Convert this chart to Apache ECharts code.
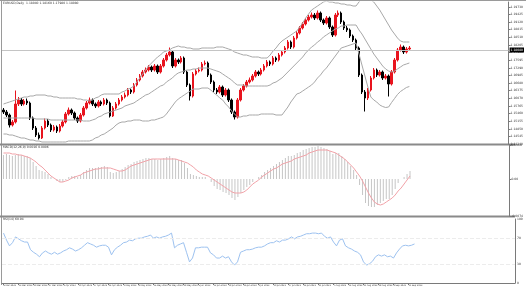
<!DOCTYPE html>
<html><head><meta charset="utf-8">
<script src="https://cdn.jsdelivr.net/npm/echarts/dist/echarts.min.js"></script>
<style>html,body{margin:0;padding:0;background:#fff}#c{width:526px;height:290px}</style>
</head><body><div id="c"></div>
<script>
const tickLabels = ['6 Mar 2023','13 Mar 2023','20 Mar 2023','27 Mar 2023','3 Apr 2023','10 Apr 2023','17 Apr 2023','24 Apr 2023','1 May 2023','8 May 2023','15 May 2023','22 May 2023','29 May 2023','5 Jun 2023','12 Jun 2023','19 Jun 2023','26 Jun 2023','3 Jul 2023','10 Jul 2023','17 Jul 2023','24 Jul 2023','31 Jul 2023','7 Aug 2023','14 Aug 2023','21 Aug 2023','28 Aug 2023','4 Sep 2023','11 Sep 2023'];

const opens = [1.1560,1.1552,1.1540,1.1500,1.1512,1.1584,1.1600,1.1584,1.1596,1.1588,
1.1528,1.1488,1.1460,1.1448,1.1488,1.1516,1.1500,1.1480,1.1492,1.1476,
1.1496,1.1512,1.1544,1.1560,1.1548,1.1528,1.1516,1.1540,1.1568,1.1588,
1.1600,1.1584,1.1576,1.1592,1.1584,1.1600,1.1588,1.1536,1.1568,1.1584,
1.1600,1.1612,1.1620,1.1640,1.1632,1.1660,1.1680,1.1696,1.1712,1.1720,
1.1732,1.1720,1.1736,1.1712,1.1736,1.1760,1.1780,1.1792,1.1736,1.1760,
1.1752,1.1768,1.1712,1.1660,1.1616,1.1704,1.1716,1.1720,1.1744,1.1748,
1.1700,1.1672,1.1640,1.1632,1.1652,1.1620,1.1640,1.1600,1.1552,1.1532,
1.1600,1.1640,1.1656,1.1672,1.1680,1.1696,1.1712,1.1704,1.1720,1.1736,
1.1752,1.1744,1.1768,1.1760,1.1780,1.1792,1.1808,1.1832,1.1812,1.1848,
1.1868,1.1888,1.1904,1.1920,1.1932,1.1940,1.1928,1.1948,1.1920,1.1908,
1.1928,1.1892,1.1860,1.1940,1.1948,1.1912,1.1888,1.1880,1.1856,1.1840,
1.1808,1.1700,1.1632,1.1608,1.1640,1.1688,1.1720,1.1700,1.1712,1.1688,
1.1696,1.1664,1.1712,1.1760,1.1800,1.1812,1.1792,1.1804];

const closes = [1.1552,1.1540,1.1500,1.1512,1.1584,1.1600,1.1584,1.1596,1.1588,1.1528,
1.1488,1.1460,1.1448,1.1488,1.1516,1.1500,1.1480,1.1492,1.1476,1.1496,
1.1512,1.1544,1.1560,1.1548,1.1528,1.1516,1.1540,1.1568,1.1588,1.1600,
1.1584,1.1576,1.1592,1.1584,1.1600,1.1588,1.1536,1.1568,1.1584,1.1600,
1.1612,1.1620,1.1640,1.1632,1.1660,1.1680,1.1696,1.1712,1.1720,1.1732,
1.1720,1.1736,1.1712,1.1736,1.1760,1.1780,1.1792,1.1736,1.1760,1.1752,
1.1768,1.1712,1.1660,1.1616,1.1704,1.1716,1.1720,1.1744,1.1748,1.1700,
1.1672,1.1640,1.1632,1.1652,1.1620,1.1640,1.1600,1.1552,1.1532,1.1600,
1.1640,1.1656,1.1672,1.1680,1.1696,1.1712,1.1704,1.1720,1.1736,1.1752,
1.1744,1.1768,1.1760,1.1780,1.1792,1.1808,1.1832,1.1812,1.1848,1.1868,
1.1888,1.1904,1.1920,1.1932,1.1940,1.1928,1.1948,1.1920,1.1908,1.1928,
1.1892,1.1860,1.1940,1.1948,1.1912,1.1888,1.1880,1.1856,1.1840,1.1808,
1.1700,1.1632,1.1608,1.1640,1.1688,1.1720,1.1700,1.1712,1.1688,1.1696,
1.1664,1.1712,1.1760,1.1800,1.1812,1.1792,1.1804,1.1808];

const highs = [1.1568,1.1560,1.1546,1.1520,1.1638,1.1612,1.1608,1.1604,1.1606,1.1594,
1.1534,1.1496,1.1470,1.1496,1.1526,1.1524,1.1506,1.1500,1.1498,1.1504,
1.1520,1.1552,1.1570,1.1566,1.1554,1.1534,1.1548,1.1576,1.1596,1.1610,
1.1606,1.1590,1.1600,1.1598,1.1608,1.1606,1.1594,1.1576,1.1592,1.1608,
1.1620,1.1630,1.1648,1.1646,1.1668,1.1688,1.1704,1.1720,1.1730,1.1740,
1.1738,1.1744,1.1742,1.1744,1.1768,1.1788,1.1810,1.1798,1.1768,1.1766,
1.1776,1.1774,1.1718,1.1666,1.1712,1.1724,1.1730,1.1752,1.1758,1.1754,
1.1706,1.1678,1.1648,1.1660,1.1658,1.1648,1.1646,1.1606,1.1558,1.1608,
1.1648,1.1664,1.1680,1.1690,1.1704,1.1720,1.1718,1.1728,1.1744,1.1760,
1.1758,1.1776,1.1774,1.1788,1.1800,1.1816,1.1840,1.1838,1.1856,1.1876,
1.1896,1.1912,1.1928,1.1940,1.1950,1.1948,1.1958,1.1954,1.1926,1.1936,
1.1934,1.1898,1.1948,1.1958,1.1954,1.1918,1.1896,1.1886,1.1862,1.1846,
1.1814,1.1706,1.1640,1.1648,1.1696,1.1728,1.1726,1.1720,1.1718,1.1704,
1.1702,1.1720,1.1768,1.1808,1.1822,1.1818,1.1812,1.1816];

const lows = [1.1544,1.1532,1.1490,1.1494,1.1506,1.1576,1.1576,1.1578,1.1580,1.1520,
1.1480,1.1452,1.1442,1.1444,1.1482,1.1492,1.1472,1.1474,1.1468,1.1470,
1.1490,1.1506,1.1538,1.1540,1.1520,1.1508,1.1510,1.1534,1.1562,1.1582,
1.1576,1.1568,1.1570,1.1576,1.1578,1.1580,1.1530,1.1532,1.1562,1.1578,
1.1594,1.1606,1.1614,1.1624,1.1626,1.1654,1.1674,1.1690,1.1706,1.1714,
1.1712,1.1714,1.1704,1.1706,1.1730,1.1754,1.1774,1.1728,1.1730,1.1744,
1.1746,1.1704,1.1652,1.1598,1.1610,1.1698,1.1710,1.1714,1.1738,1.1692,
1.1664,1.1632,1.1624,1.1626,1.1612,1.1614,1.1592,1.1544,1.1522,1.1526,
1.1594,1.1634,1.1650,1.1666,1.1674,1.1690,1.1696,1.1698,1.1714,1.1730,
1.1736,1.1738,1.1752,1.1754,1.1774,1.1786,1.1802,1.1804,1.1806,1.1842,
1.1862,1.1882,1.1898,1.1914,1.1926,1.1920,1.1922,1.1912,1.1900,1.1902,
1.1884,1.1852,1.1854,1.1932,1.1904,1.1880,1.1872,1.1848,1.1832,1.1800,
1.1692,1.1624,1.1554,1.1600,1.1634,1.1682,1.1692,1.1694,1.1680,1.1682,
1.1614,1.1658,1.1706,1.1754,1.1794,1.1784,1.1786,1.1798];

const bbUpper = [1.1584,1.1588,1.1592,1.1596,1.1600,1.1604,1.1608,1.1612,1.1612,1.1616,
1.1616,1.1620,1.1620,1.1620,1.1620,1.1616,1.1616,1.1612,1.1612,1.1608,
1.1608,1.1608,1.1608,1.1608,1.1608,1.1604,1.1604,1.1600,1.1600,1.1596,
1.1600,1.1608,1.1612,1.1620,1.1624,1.1624,1.1624,1.1624,1.1624,1.1624,
1.1632,1.1636,1.1644,1.1648,1.1656,1.1672,1.1688,1.1704,1.1720,1.1736,
1.1748,1.1760,1.1772,1.1780,1.1792,1.1796,1.1800,1.1808,1.1812,1.1816,
1.1812,1.1812,1.1808,1.1808,1.1804,1.1804,1.1804,1.1808,1.1808,1.1808,
1.1808,1.1808,1.1812,1.1812,1.1812,1.1808,1.1804,1.1800,1.1792,1.1788,
1.1784,1.1780,1.1780,1.1776,1.1772,1.1772,1.1772,1.1768,1.1768,1.1768,
1.1780,1.1796,1.1808,1.1824,1.1836,1.1844,1.1852,1.1860,1.1868,1.1876,
1.1892,1.1908,1.1928,1.1944,1.1960,1.1968,1.1976,1.1984,1.1992,1.1996,
1.1992,1.1992,1.1988,1.1988,1.1984,1.1984,1.1980,1.1980,1.1976,1.1976,
1.1992,1.2008,1.2020,1.2012,1.2000,1.1992,1.1976,1.1960,1.1940,1.1920,
1.1900,1.1880,1.1864,1.1848,1.1836,1.1832,1.1832,1.1832];

const bbMiddle = [1.1528,1.1528,1.1528,1.1528,1.1528,1.1528,1.1528,1.1528,1.1528,1.1528,
1.1528,1.1524,1.1524,1.1524,1.1524,1.1524,1.1520,1.1520,1.1520,1.1520,
1.1520,1.1520,1.1520,1.1520,1.1520,1.1520,1.1520,1.1516,1.1516,1.1516,
1.1520,1.1524,1.1532,1.1536,1.1544,1.1548,1.1552,1.1556,1.1560,1.1564,
1.1568,1.1576,1.1580,1.1584,1.1588,1.1596,1.1604,1.1612,1.1620,1.1624,
1.1632,1.1640,1.1648,1.1656,1.1660,1.1672,1.1680,1.1688,1.1700,1.1708,
1.1712,1.1716,1.1720,1.1720,1.1724,1.1724,1.1728,1.1728,1.1728,1.1728,
1.1724,1.1720,1.1716,1.1712,1.1704,1.1696,1.1688,1.1680,1.1668,1.1660,
1.1660,1.1660,1.1656,1.1656,1.1656,1.1656,1.1656,1.1656,1.1656,1.1656,
1.1660,1.1668,1.1672,1.1680,1.1688,1.1700,1.1712,1.1724,1.1736,1.1748,
1.1760,1.1772,1.1788,1.1800,1.1812,1.1820,1.1832,1.1840,1.1852,1.1860,
1.1868,1.1876,1.1884,1.1888,1.1896,1.1896,1.1900,1.1900,1.1900,1.1900,
1.1880,1.1864,1.1844,1.1824,1.1804,1.1784,1.1768,1.1752,1.1736,1.1724,
1.1716,1.1712,1.1716,1.1724,1.1732,1.1740,1.1744,1.1748];

const bbLower = [1.1464,1.1464,1.1460,1.1460,1.1456,1.1452,1.1448,1.1448,1.1444,1.1440,
1.1440,1.1436,1.1436,1.1432,1.1432,1.1432,1.1432,1.1432,1.1432,1.1432,
1.1432,1.1432,1.1436,1.1436,1.1436,1.1436,1.1436,1.1436,1.1436,1.1436,
1.1440,1.1448,1.1452,1.1460,1.1464,1.1472,1.1480,1.1488,1.1500,1.1508,
1.1512,1.1512,1.1516,1.1516,1.1520,1.1520,1.1520,1.1516,1.1516,1.1516,
1.1520,1.1520,1.1524,1.1528,1.1532,1.1544,1.1560,1.1576,1.1592,1.1604,
1.1612,1.1620,1.1628,1.1636,1.1644,1.1644,1.1644,1.1648,1.1648,1.1648,
1.1640,1.1628,1.1620,1.1608,1.1600,1.1584,1.1572,1.1556,1.1544,1.1532,
1.1532,1.1536,1.1536,1.1540,1.1540,1.1540,1.1540,1.1544,1.1544,1.1544,
1.1544,1.1544,1.1540,1.1540,1.1540,1.1556,1.1572,1.1592,1.1608,1.1624,
1.1628,1.1636,1.1644,1.1652,1.1660,1.1672,1.1688,1.1700,1.1716,1.1728,
1.1744,1.1760,1.1776,1.1792,1.1808,1.1812,1.1816,1.1820,1.1824,1.1828,
1.1784,1.1740,1.1696,1.1652,1.1612,1.1600,1.1592,1.1580,1.1574,1.1570,
1.1572,1.1590,1.1606,1.1622,1.1634,1.1642,1.1650,1.1654];

const macdHist = [0.0048,0.0050,0.0048,0.0046,0.0048,0.0050,0.0048,0.0046,0.0046,0.0042,
0.0034,0.0026,0.0018,0.0016,0.0014,0.0010,0.0004,0.0000,-0.0004,-0.0006,
-0.0006,-0.0002,0.0004,0.0006,0.0006,0.0004,0.0008,0.0014,0.0018,0.0022,
0.0022,0.0022,0.0024,0.0024,0.0026,0.0024,0.0014,0.0012,0.0014,0.0016,
0.0020,0.0024,0.0028,0.0030,0.0034,0.0036,0.0038,0.0040,0.0042,0.0042,
0.0040,0.0040,0.0038,0.0040,0.0042,0.0044,0.0046,0.0042,0.0040,0.0038,
0.0038,0.0032,0.0022,0.0010,0.0008,0.0006,0.0004,0.0004,0.0004,0.0000,
-0.0006,-0.0014,-0.0020,-0.0022,-0.0026,-0.0028,-0.0032,-0.0038,-0.0042,-0.0036,
-0.0028,-0.0022,-0.0016,-0.0012,-0.0006,0.0000,0.0004,0.0008,0.0014,0.0018,
0.0022,0.0026,0.0030,0.0034,0.0038,0.0042,0.0046,0.0046,0.0048,0.0052,
0.0054,0.0058,0.0060,0.0062,0.0064,0.0064,0.0066,0.0064,0.0062,0.0060,
0.0056,0.0050,0.0052,0.0052,0.0046,0.0040,0.0034,0.0026,0.0018,0.0008,
-0.0012,-0.0032,-0.0048,-0.0054,-0.0056,-0.0056,-0.0052,-0.0048,-0.0044,-0.0040,
-0.0040,-0.0032,-0.0020,-0.0008,0.0000,0.0004,0.0010,0.0016];

const macdSignal = [0.0052,0.0052,0.0052,0.0050,0.0050,0.0048,0.0048,0.0046,0.0044,0.0042,
0.0038,0.0034,0.0028,0.0024,0.0018,0.0012,0.0006,0.0002,-0.0002,-0.0006,
-0.0006,-0.0004,-0.0002,0.0002,0.0004,0.0006,0.0008,0.0012,0.0014,0.0016,
0.0018,0.0020,0.0020,0.0022,0.0022,0.0022,0.0022,0.0020,0.0018,0.0016,
0.0016,0.0018,0.0022,0.0026,0.0028,0.0030,0.0032,0.0034,0.0036,0.0038,
0.0040,0.0040,0.0040,0.0040,0.0040,0.0040,0.0040,0.0040,0.0040,0.0038,
0.0036,0.0034,0.0032,0.0028,0.0024,0.0018,0.0014,0.0010,0.0008,0.0006,
0.0002,-0.0002,-0.0006,-0.0010,-0.0014,-0.0018,-0.0022,-0.0026,-0.0028,-0.0028,
-0.0028,-0.0026,-0.0022,-0.0016,-0.0010,-0.0006,-0.0002,0.0004,0.0008,0.0012,
0.0016,0.0020,0.0022,0.0026,0.0030,0.0032,0.0034,0.0036,0.0040,0.0042,
0.0044,0.0046,0.0048,0.0052,0.0054,0.0056,0.0058,0.0058,0.0058,0.0058,
0.0056,0.0054,0.0052,0.0048,0.0044,0.0040,0.0034,0.0028,0.0022,0.0014,
0.0006,-0.0004,-0.0016,-0.0028,-0.0038,-0.0046,-0.0050,-0.0052,-0.0050,-0.0046,
-0.0042,-0.0038,-0.0032,-0.0024,-0.0018,-0.0010,-0.0002,0.0006];

const rsi = [78,67,58,63,72,69,66,64,64,52,
48,45,41,47,50,47,45,48,45,47,
50,52,55,53,50,52,55,59,63,61,
59,56,58,59,59,56,44,52,56,59,
63,64,67,66,69,70,70,72,73,75,
70,72,70,72,73,75,78,55,59,61,
63,48,33,39,55,55,56,56,56,47,
44,39,39,42,39,41,33,28,33,48,
50,52,52,53,55,56,56,58,61,63,
63,66,64,67,67,69,72,69,72,73,
75,77,77,78,78,77,78,73,70,72,
64,58,67,69,58,55,53,50,48,44,
33,28,30,34,41,44,42,44,41,42,
39,47,53,58,59,58,59,61];

const rsiLevels = [30, 70];
const N_SLOTS = 171;
const categories = Array.from({length: N_SLOTS}, (_, i) => String(i));
const lastPrice = closes[closes.length - 1];

const candleData = opens.map((o, i) => [o, closes[i], lows[i], highs[i]]);
const FONT = 'Tahoma, "DejaVu Sans", sans-serif';
const AX = '#7a7a7a';
const showTick = (i) => i % 5 === 0 && i / 5 < tickLabels.length;

const chart = echarts.init(document.getElementById('c'), null, {renderer: 'canvas'});
const xAx = (g) => ({
  type: 'category', gridIndex: g, data: categories, boundaryGap: true,
  axisLine: {show: g === 2, lineStyle: {color: AX}},
  axisTick: {show: g === 2, alignWithLabel: true, interval: showTick, length: 2, lineStyle: {color: AX}},
  axisLabel: {show: g === 2, interval: showTick, formatter: (v, i) => tickLabels[i / 5] || '',
    fontSize: 2.2, fontFamily: FONT, color: '#333', margin: 1.5, align: 'left'},
  splitLine: {show: false}
});
const yLab = {fontSize: 3, fontFamily: FONT, color: '#333', margin: 2};
const yBase = {
  type: 'value', position: 'right',
  axisLine: {show: true, lineStyle: {color: AX}},
  axisTick: {show: true, length: 2, lineStyle: {color: AX}},
  splitLine: {show: false}
};
chart.setOption({
  animation: false,
  backgroundColor: '#ffffff',
  grid: [
    {left: 2, right: 11, top: 2, height: 142},
    {left: 2, right: 11, top: 145, height: 71},
    {left: 2, right: 11, top: 219, height: 64}
  ],
  xAxis: [xAx(0), xAx(1), xAx(2)],
  yAxis: [
    Object.assign({}, yBase, {gridIndex: 0, min: 1.1424, max: 1.1992, interval: 0.00305,
      axisLabel: Object.assign({}, yLab, {showMaxLabel: false, formatter: v => v.toFixed(5)})}),
    Object.assign({}, yBase, {gridIndex: 1, min: -0.0074, max: 0.0068, interval: 0.0074,
      axisLabel: Object.assign({}, yLab, {formatter: v => Math.abs(v) < 1e-9 ? '0.00' : v.toFixed(4)})}),
    Object.assign({}, yBase, {gridIndex: 2, min: 0, max: 100, interval: 10,
      axisTick: {show: false},
      axisLabel: Object.assign({}, yLab, {formatter: v => ([0, 30, 70, 100].indexOf(v) >= 0 ? String(v) : '')})})
  ],
  series: [
    {type: 'candlestick', xAxisIndex: 0, yAxisIndex: 0, data: candleData, barWidth: 2,
      itemStyle: {color: '#e8141e', color0: '#000000', borderColor: '#e8141e', borderColor0: '#000000', borderWidth: 1},
      markLine: {silent: true, symbol: 'none', animation: false,
        lineStyle: {color: '#c4c4c4', width: 1, type: 'solid'},
        label: {show: true, position: 'end', distance: 1, formatter: lastPrice.toFixed(5),
          backgroundColor: '#000', color: '#fff', fontSize: 3, fontFamily: FONT, padding: [1, 1]},
        data: [{yAxis: lastPrice}]}},
    {type: 'line', xAxisIndex: 0, yAxisIndex: 0, data: bbUpper, symbol: 'none', lineStyle: {color: '#a8a8a8', width: 1}},
    {type: 'line', xAxisIndex: 0, yAxisIndex: 0, data: bbMiddle, symbol: 'none', lineStyle: {color: '#a8a8a8', width: 1}},
    {type: 'line', xAxisIndex: 0, yAxisIndex: 0, data: bbLower, symbol: 'none', lineStyle: {color: '#a8a8a8', width: 1}},
    {type: 'bar', xAxisIndex: 1, yAxisIndex: 1, data: macdHist, barWidth: 1, itemStyle: {color: '#c6c6c6'}},
    {type: 'line', xAxisIndex: 1, yAxisIndex: 1, data: macdSignal, symbol: 'none', lineStyle: {color: '#f2a2a8', width: 1}},
    {type: 'line', xAxisIndex: 2, yAxisIndex: 2, data: rsi, symbol: 'none', lineStyle: {color: '#9dc2f0', width: 1},
      markLine: {silent: true, symbol: 'none', animation: false, label: {show: false},
        lineStyle: {color: '#ececec', width: 1, type: 'dashed'},
        data: rsiLevels.map(v => ({yAxis: v}))}}
  ],
  graphic: [
    {type: 'line', shape: {x1: 0, y1: 0.5, x2: 526, y2: 0.5}, style: {stroke: '#9a9a9a', lineWidth: 1}},
    {type: 'line', shape: {x1: 1.5, y1: 0, x2: 1.5, y2: 285}, style: {stroke: '#9a9a9a', lineWidth: 1}},
    {type: 'line', shape: {x1: 0, y1: 144.5, x2: 515, y2: 144.5}, style: {stroke: '#8a8a8a', lineWidth: 2}},
    {type: 'line', shape: {x1: 0, y1: 216.5, x2: 515, y2: 216.5}, style: {stroke: '#8a8a8a', lineWidth: 2}},
    {type: 'text', left: 3, top: 2, style: {text: 'EURUSD,Daily  1.18040 1.18160 1.17980 1.18080', fontSize: 3, fontFamily: FONT, fill: '#333'}},
    {type: 'text', left: 3, top: 146, style: {text: 'MACD(12,26,9) 0.0016 0.0006', fontSize: 3, fontFamily: FONT, fill: '#333'}},
    {type: 'text', left: 3, top: 218, style: {text: 'RSI(14) 60.94', fontSize: 3, fontFamily: FONT, fill: '#333'}}
  ]
});
</script>
</body></html>
